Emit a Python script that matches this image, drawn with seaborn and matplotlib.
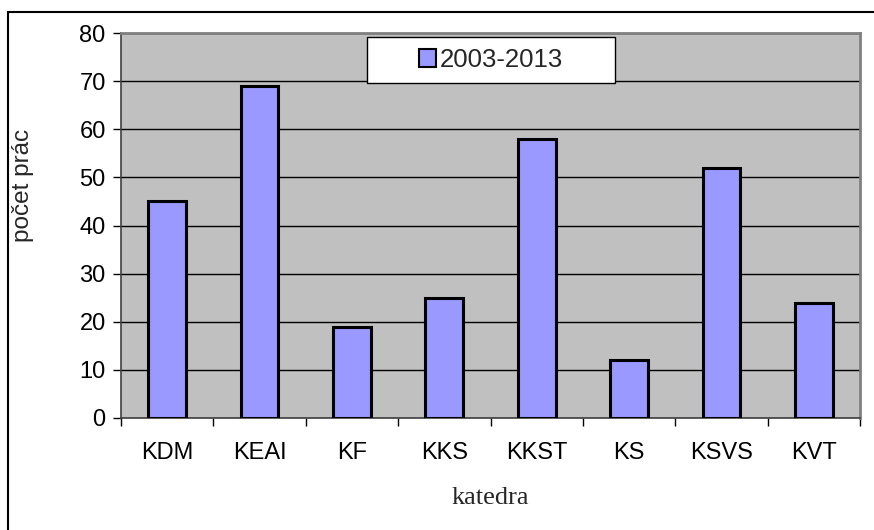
import pandas as pd
import matplotlib
matplotlib.use("Agg")
import matplotlib.pyplot as plt
import matplotlib.patches as mpatches
from matplotlib.font_manager import FontProperties
from matplotlib.ticker import MultipleLocator, FixedLocator
import seaborn as sns

# data
katedry = ['KDM', 'KEAI', 'KF', 'KKS', 'KKST', 'KS', 'KSVS', 'KVT']
pocet_prac = [45, 69, 19, 25, 58, 12, 52, 24]
obdobie = '2003-2013'

df = pd.DataFrame({'katedra': katedry, 'pocet': pocet_prac, 'obdobie': obdobie})

sns.set_style('white')
plt.rcParams['font.family'] = ['Liberation Sans', 'DejaVu Sans']

fig = plt.figure(figsize=(8.74, 5.30), dpi=100)
ax = fig.add_axes([121 / 874, 1 - 418 / 530, (860 - 121) / 874, (418 - 33) / 530])
ax.set_facecolor('#C0C0C0')

sns.barplot(data=df, x='katedra', y='pocet', hue='obdobie', palette=['#9999FF'],
            saturation=1, width=0.41, dodge=False, edgecolor='black', linewidth=2.2,
            ax=ax, zorder=3)

ax.set_xlim(-0.5, len(katedry) - 0.5)
ax.set_ylim(0, 80)
ax.yaxis.set_major_locator(MultipleLocator(10))
ax.grid(axis='y', color='black', linewidth=1.0, zorder=1)
ax.set_axisbelow(True)

# tick marks between categories, labels centered
ax.xaxis.set_minor_locator(FixedLocator([i - 0.5 for i in range(len(katedry) + 1)]))
ax.tick_params(axis='x', which='major', length=0, pad=17, labelsize=17, colors='black')
ax.tick_params(axis='x', which='minor', length=6, width=1, direction='out', color='black', bottom=True)
ax.tick_params(axis='y', which='major', length=6, width=1, direction='out', left=True,
               labelsize=17, colors='black', pad=5)

for side in ['left', 'bottom']:
    ax.spines[side].set_color('#404040')
    ax.spines[side].set_linewidth(1.2)
for side in ['top', 'right']:
    ax.spines[side].set_color('#808080')
    ax.spines[side].set_linewidth(2)

# axis titles: x in serif, y in sans like the original
ax.set_xlabel('katedra', fontproperties=FontProperties(family='Liberation Serif', size=19),
              labelpad=17)
ax.set_ylabel('počet prác', fontproperties=FontProperties(family='Liberation Sans', size=17.5))
ax.yaxis.set_label_coords(-0.118, 0.605)

# legend without frame, box drawn separately (Excel style wide box)
leg = ax.legend(loc='center', bbox_to_anchor=(491 / 874, 1 - 60 / 530),
                bbox_transform=fig.transFigure, fontsize=18.5, frameon=False,
                handlelength=0.65, handleheight=0.65, handletextpad=0.15)
for h in leg.legend_handles:
    h.set_linewidth(1.5)
    h.set_edgecolor('black')
leg.set_zorder(6)
ax.add_patch(mpatches.Rectangle((367 / 874, 1 - 83 / 530), (615 - 367) / 874, 46 / 530,
                                transform=fig.transFigure, facecolor='white',
                                edgecolor='black', linewidth=1.0, zorder=5))

# outer chart border
fig.patches.append(mpatches.Rectangle((8 / 874, -0.1), 2, 1 - 12 / 530 + 0.1,
                                      transform=fig.transFigure, fill=False,
                                      edgecolor='black', linewidth=1.5))

fig.savefig('out.png', dpi=100, facecolor='white')
